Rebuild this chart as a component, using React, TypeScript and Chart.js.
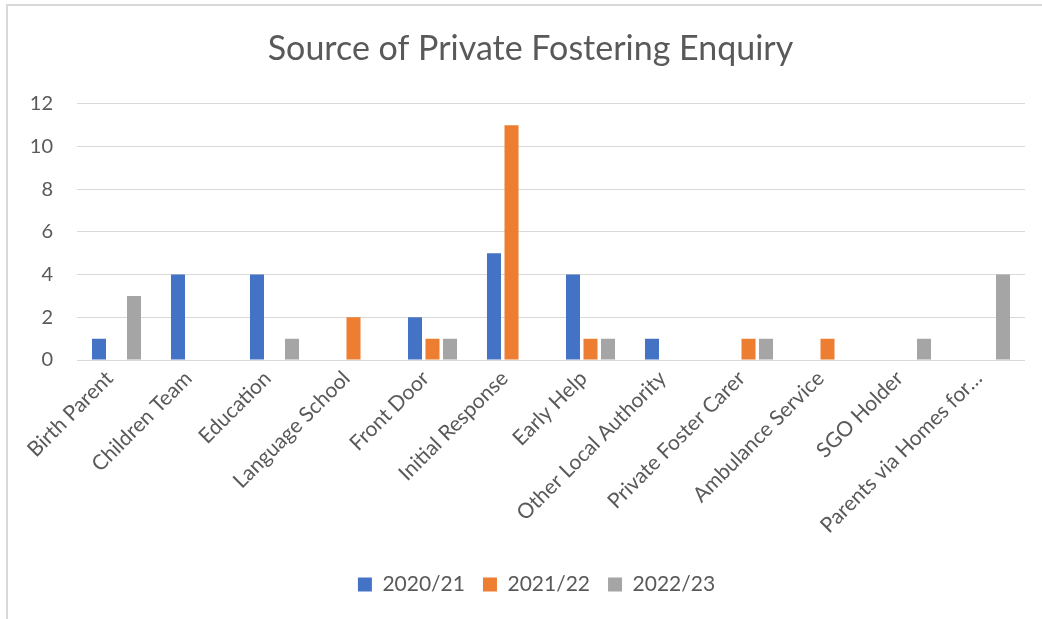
import React, { useEffect, useRef } from "react";
import { Chart, registerables } from "chart.js";

Chart.register(...registerables);

const categories = [
  "Birth Parent",
  "Children Team",
  "Education",
  "Language School",
  "Front Door",
  "Initial Response",
  "Early Help",
  "Other Local Authority",
  "Private Foster Carer",
  "Ambulance Service",
  "SGO Holder",
  "Parents via Homes for\u2026",
];

const series2020 = [1, 4, 4, 0, 2, 5, 4, 1, 0, 0, 0, 0];
const series2021 = [0, 0, 0, 2, 1, 11, 1, 0, 1, 1, 0, 0];
const series2022 = [3, 0, 1, 0, 1, 0, 1, 0, 1, 0, 1, 4];

const seriesLabels = ["2020/21", "2021/22", "2022/23"];
const seriesColors = ["#4472C4", "#ED7D31", "#A5A5A5"];

const yMin = 0;
const yMax = 12;
const yStep = 2;

const FONT = "Lato, 'Open Sans', sans-serif";
const TEXT = "#595959";

const shiftPlugin = {
  id: "shiftBlocks",
  afterLayout(chart: any) {
    if (chart.legend) {
      chart.legend.left += 20;
      chart.legend.right += 20;
    }
    if (chart.titleBlock) {
      chart.titleBlock.left += 14;
      chart.titleBlock.right += 14;
    }
  },
};

export default function App() {
  const ref = useRef<HTMLCanvasElement | null>(null);

  useEffect(() => {
    if (!ref.current) return;
    const values = [series2020, series2021, series2022];
    const chart = new Chart(ref.current, {
      type: "bar",
      data: {
        labels: categories,
        datasets: values.map((v, i) => ({
          label: seriesLabels[i],
          data: v,
          backgroundColor: seriesColors[i],
          borderWidth: 0,
          categoryPercentage: 0.665,
          barPercentage: 0.8,
        })),
      },
      plugins: [shiftPlugin],
      options: {
        animation: false,
        responsive: false,
        maintainAspectRatio: false,
        layout: { padding: { left: 0, right: 17, top: 0, bottom: 14 } },
        plugins: {
          title: {
            display: true,
            text: "Source of Private Fostering Enquiry",
            color: TEXT,
            font: { family: FONT, size: 34, weight: "normal" },
            padding: { top: 23, bottom: 34 },
          },
          legend: {
            position: "bottom",
            labels: {
              color: TEXT,
              font: { family: FONT, size: 21 },
              boxWidth: 14,
              boxHeight: 14,
              padding: 18,
            },
          },
          tooltip: { enabled: false },
        },
        scales: {
          x: {
            grid: { display: false },
            border: { display: false },
            ticks: {
              color: TEXT,
              font: { family: FONT, size: 21 },
              minRotation: 45,
              maxRotation: 45,
              autoSkip: false,
              padding: -2,
              labelOffset: -7,
            },
            afterFit: (scale: any) => {
              scale.height = 196;
            },
          },
          y: {
            min: yMin,
            max: yMax,
            ticks: {
              stepSize: yStep,
              color: TEXT,
              font: { family: FONT, size: 20 },
              padding: 24,
            },
            grid: { color: "#d9d9d9", lineWidth: 1, drawTicks: false },
            border: { display: false },
            afterFit: (scale: any) => {
              scale.width = 69;
            },
          },
        },
      },
    });
    return () => chart.destroy();
  }, []);

  return (
    <div
      style={{
        position: "fixed",
        left: 0,
        top: 0,
        width: 1042,
        height: 619,
        overflow: "hidden",
        background: "#fff",
      }}
    >
      <div
        style={{
          position: "absolute",
          left: 6,
          top: 4,
          width: 1100,
          height: 700,
          borderLeft: "2px solid #d9d9d9",
          borderTop: "2px solid #d9d9d9",
        }}
      />
      <canvas
        ref={ref}
        width={1034}
        height={613}
        style={{ position: "absolute", left: 8, top: 6, width: 1034, height: 613 }}
      />
    </div>
  );
}
